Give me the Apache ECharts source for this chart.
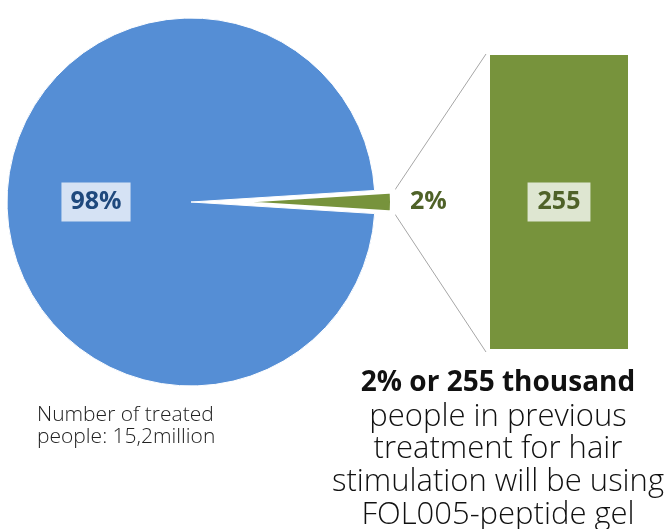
<!DOCTYPE html>
<html><head><meta charset="utf-8">
<script src="https://cdn.jsdelivr.net/npm/echarts@6/dist/echarts.min.js"></script>
<style>html,body{margin:0;padding:0;background:#fff}#c{width:670px;height:529px}</style>
</head><body><div id="c"></div>
<script>
const sliceNames = ['FOL005-peptide gel users', 'Other treated people'];
const slicePercents = [2, 98];
const barCategories = ['FOL005-peptide gel'];
const barValues = [255];
const leftCaption = ['Number of treated', 'people: 15,2million'];
const rightHeadline = '2% or 255 thousand';
const rightCaption = ['people in previous', 'treatment for hair', 'stimulation will be using', 'FOL005-peptide gel'];

const BLUE = '#558ed5', GREEN = '#77933c';
const LBL_FONT = '"Open Sans", "Noto Sans", sans-serif';
const CAP_FONT = '"Open Sans", "Noto Sans", sans-serif';
const chart = echarts.init(document.getElementById('c'), null, {renderer: 'canvas'});

const pieData = sliceNames.map((n, i) => ({
  name: n,
  value: slicePercents[i],
  selected: i === 0,
  itemStyle: i === 0 ? {color: GREEN, borderColor: '#fff', borderWidth: 6} : {color: BLUE, borderColor: '#fff', borderWidth: 1},
  label: i === 0 ? {
    position: 'outside', color: '#4f6228', fontSize: 25, fontWeight: 'bold', fontFamily: LBL_FONT
  } : {
    position: 'inside', color: '#1f497d', fontSize: 25, fontWeight: 'bold', fontFamily: LBL_FONT,
    backgroundColor: '#d5e2f4', padding: [7, 9]
  },
  labelLine: {show: false, length: 12, length2: 0}
}));

const graphics = [];
leftCaption.forEach((t, i) => graphics.push({
  type: 'text', x: 37, y: 415 + i * 22,
  style: {text: t, font: '300 21px ' + CAP_FONT, fill: '#222', textVerticalAlign: 'middle'}
}));
graphics.push({
  type: 'text', x: 498, y: 383,
  style: {text: rightHeadline, font: 'bold 28px ' + CAP_FONT, fill: '#111', textAlign: 'center', textVerticalAlign: 'middle'}
});
rightCaption.forEach((t, i) => graphics.push({
  type: 'text', x: 498, y: 417 + i * 32.6,
  style: {text: t, font: '300 31px ' + CAP_FONT, fill: '#111', textAlign: 'center', textVerticalAlign: 'middle'}
}));

const option = {
  animation: false,
  grid: {left: 490, right: 42, top: 55, bottom: 180},
  xAxis: {type: 'category', data: barCategories, show: false},
  yAxis: {type: 'value', min: 0, max: barValues[0], show: false},
  series: [
    {
      type: 'pie', center: [191, 202], radius: 184, startAngle: 3.6, clockwise: true,
      selectedMode: 'single', selectedOffset: 18, avoidLabelOverlap: false,
      label: {show: true, formatter: '{c}%'},
      emphasis: {disabled: true},
      data: pieData
    },
    {
      type: 'bar', data: barValues, barWidth: '100%',
      itemStyle: {color: GREEN},
      label: {
        show: true, position: 'inside', color: '#4f6228', fontSize: 25, fontWeight: 'bold', fontFamily: LBL_FONT,
        backgroundColor: '#dee6d1', padding: [7, 10]
      }
    }
  ],
  graphic: graphics
};
chart.setOption(option);

// connector lines from the exploded slice to the bar
const pieLayout = chart.getModel().getSeriesByIndex(0).getData().getItemLayout(0);
const barLayout = chart.getModel().getSeriesByIndex(1).getData().getItemLayout(0);
const off = 18;
const mid = (pieLayout.startAngle + pieLayout.endAngle) / 2;
const sx = pieLayout.cx + off * Math.cos(mid);
const sy = pieLayout.cy + off * Math.sin(mid);
const p1 = [sx + (pieLayout.r + 2) * Math.cos(pieLayout.startAngle), sy + (pieLayout.r + 2) * Math.sin(pieLayout.startAngle)];
const p2 = [sx + (pieLayout.r + 2) * Math.cos(pieLayout.endAngle), sy + (pieLayout.r + 2) * Math.sin(pieLayout.endAngle)];
const barTop = Math.min(barLayout.y, barLayout.y + barLayout.height);
const barBot = Math.max(barLayout.y, barLayout.y + barLayout.height);
const ys = [p1[1], p2[1]].sort((a, b) => a - b);
const xs = Math.max(p1[0], p2[0]);
graphics.push(
  {type: 'line', shape: {x1: xs, y1: ys[0], x2: barLayout.x - 4, y2: barTop - 1}, style: {stroke: '#a6a6a6', lineWidth: 1}},
  {type: 'line', shape: {x1: xs, y1: ys[1], x2: barLayout.x - 4, y2: barBot + 3}, style: {stroke: '#a6a6a6', lineWidth: 1}}
);
chart.setOption({graphic: graphics});
</script></body></html>
